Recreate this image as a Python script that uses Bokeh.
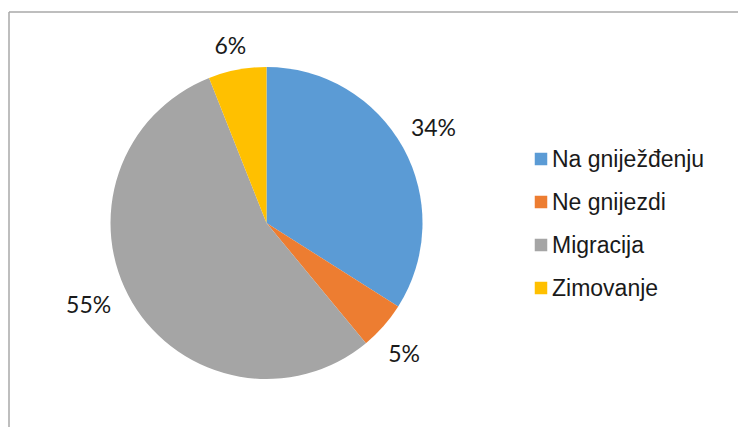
import math
from bokeh.plotting import figure
from bokeh.models import Range1d, ColumnDataSource
from bokeh.core.properties import value
from bokeh.embed import file_html
from bokeh.resources import INLINE

# ---- data ----
categories = ["Na gniježđenju", "Ne gnijezdi", "Migracija", "Zimovanje"]
shares = [34, 5, 55, 6]
colors = ["#5B9BD5", "#ED7D31", "#A5A5A5", "#FFC000"]

# ---- layout (pixels; data units == pixels) ----
W, H = 738, 427
cx, cy, r = 266.0, 204.5, 156.0

p = figure(width=W, height=H, output_backend="svg", toolbar_location=None,
           x_range=Range1d(0, W), y_range=Range1d(0, H), min_border=0)
p.axis.visible = False
p.grid.visible = False
p.outline_line_color = None
p.background_fill_color = "white"
p.border_fill_color = "white"

# frame lines (chart area border, partly cropped)
p.segment(x0=[8.5, 8.5], y0=[0, H - 11.5], x1=[8.5, W], y1=[H - 11.5, H - 11.5],
          line_color="#a9a9a9", line_width=1.5)

# wedges
total = float(sum(shares))
starts, ends, mids = [], [], []
acc = 0.0
for s in shares:
    a0 = math.pi / 2 - 2 * math.pi * acc / total
    acc += s
    a1 = math.pi / 2 - 2 * math.pi * acc / total
    starts.append(a0)
    ends.append(a1)
    mids.append(2 * math.pi * (acc - s / 2) / total)  # clockwise from top

src = ColumnDataSource(dict(start=starts, end=ends, color=colors, cat=categories))
p.wedge(x=cx, y=cy, radius=r, start_angle="start", end_angle="end",
        direction="clock", fill_color="color", line_color=None, source=src)

# data labels (outside end)
labels = [f"{s}%" for s in shares]
label_nudge_px = [(-3, 3), (-4, -5), (-11, 18), (-2, -1)]
lx, ly = [], []
for t, th, (nx, ny) in zip(labels, mids, label_nudge_px):
    ndig = len(t) - 1
    a = (10.5 * ndig + 22) / 2.0
    b = 8.5
    ux, uy = math.sin(th), math.cos(th)
    R = r + 15 + a * abs(ux) + b * abs(uy)
    lx.append(cx + R * ux + nx)
    ly.append(cy + R * uy + ny)
p.text(x=lx, y=ly, text=labels, text_font=value("Lato"), text_font_size="23px",
       text_color="#1a1a1a", text_align="center", text_baseline="middle")

# legend (manual)
leg_x, leg_y0, leg_dy, sq = 540.5, 268.5, 43.0, 12.5
ys = [leg_y0 - i * leg_dy for i in range(len(categories))]
p.rect(x=[leg_x] * len(categories), y=ys, width=sq, height=sq,
       fill_color=colors, line_color=None)
p.text(x=[leg_x + 11] * len(categories), y=ys, text=categories,
       text_font=value("Liberation Sans"), text_font_size="23px",
       text_color="#1a1a1a", text_align="left", text_baseline="middle")

open("out.html", "w").write(file_html(p, INLINE))
